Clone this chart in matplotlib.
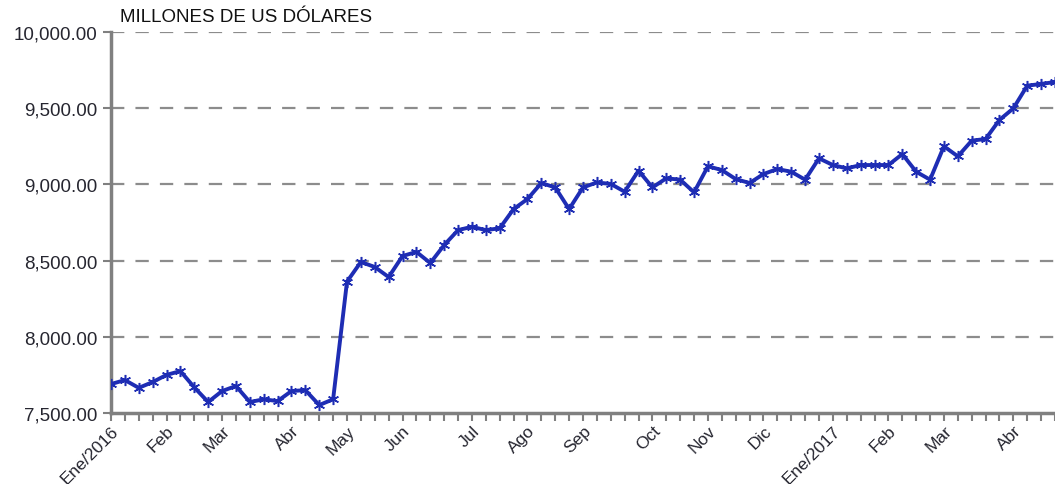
import numpy as np
import matplotlib
matplotlib.use("Agg")
import matplotlib.pyplot as plt

plt.rcParams['font.family'] = ['Liberation Sans', 'DejaVu Sans']

# weekly values, Thursdays from 7 Jan 2016 to 27 Apr 2017
values = [7690, 7716, 7665, 7703, 7750, 7775, 7668, 7572, 7644, 7677,
          7572, 7590, 7578, 7644, 7650, 7552, 7590, 8362, 8491, 8458,
          8392, 8530, 8557, 8484, 8602, 8700, 8722, 8700, 8712, 8838,
          8904, 9009, 8980, 8838, 8980, 9013, 9003, 8952, 9090, 8980,
          9040, 9031, 8948, 9119, 9094, 9035, 9009, 9068, 9101, 9083,
          9031, 9171, 9127, 9105, 9127, 9127, 9127, 9199, 9083, 9031,
          9250, 9184, 9287, 9298, 9423, 9499, 9648, 9659, 9672]
month_idx = [0, 4, 8, 13, 17, 21, 26, 30, 34, 39, 43, 47, 52, 56, 60, 65]
month_labels = ['Ene/2016', 'Feb', 'Mar', 'Abr', 'May', 'Jun', 'Jul', 'Ago',
                'Sep', 'Oct', 'Nov', 'Dic', 'Ene/2017', 'Feb', 'Mar', 'Abr']
y_ticks = [7500, 8000, 8500, 9000, 9500, 10000]

x = np.arange(len(values))

fig = plt.figure(figsize=(10.55, 4.85), dpi=100)
ax = fig.add_axes([111/1055, 1 - 414/485, 1 - 111/1055, (414 - 33)/485])

for yv in y_ticks[1:]:
    ax.axhline(yv, color='#8c8c8c', lw=1.6, dashes=(6, 5), zorder=1)

ax.plot(x, values, color='#1e2db4', lw=2.8, marker=(6, 2, 0), ms=8, mew=1.1,
        zorder=3)

ax.set_xlim(0, len(values) - 1)
ax.set_ylim(7500, 10000)
ax.set_yticks(y_ticks)
ax.set_yticklabels(['{:,.2f}'.format(v) for v in y_ticks])
ax.set_xticks(month_idx)
ax.set_xticklabels(month_labels, rotation=45, ha='right', rotation_mode='anchor')
ax.set_xticks(x, minor=True)

for s in ['top', 'right']:
    ax.spines[s].set_visible(False)
for s in ['left', 'bottom']:
    ax.spines[s].set_color('#808080')
    ax.spines[s].set_linewidth(2.5)

ax.tick_params(axis='both', which='both', color='#808080', width=1.5,
               length=6, labelcolor='#262630')
ax.tick_params(axis='y', labelsize=13.5, pad=4)
ax.tick_params(axis='x', which='major', labelsize=12.5, pad=1)

fig.text(120/1055, 1 - 17/485, 'MILLONES DE US DÓLARES', fontsize=13.5,
         color='#111111', va='center', ha='left')

fig.savefig('out.png', dpi=100)
